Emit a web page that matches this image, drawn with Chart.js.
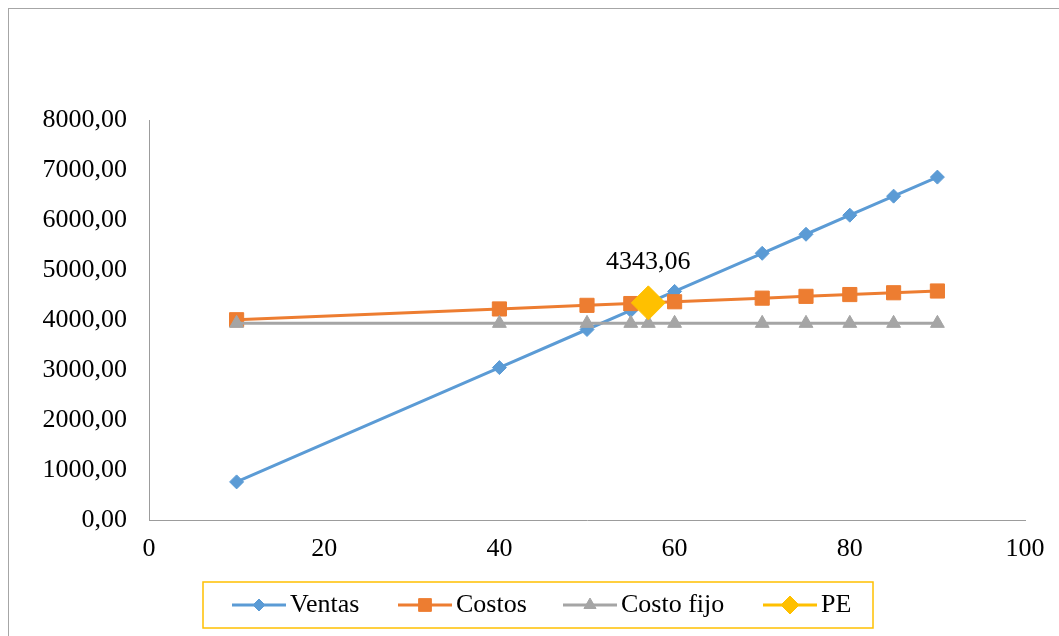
<!DOCTYPE html>
<html>
<head>
<meta charset="utf-8">
<script src="https://cdn.jsdelivr.net/npm/chart.js@4.4.1/dist/chart.umd.min.js"></script>
<style>
  html, body { margin: 0; padding: 0; background: #ffffff; overflow: hidden; }
  canvas { display: block; }
</style>
</head>
<body>
<canvas id="grafico" width="1059" height="636"></canvas>
<script>
// Unidades vendidas (eje X)
const unidades = [10, 40, 50, 55, 57, 60, 70, 75, 80, 85, 90];
// Ingresos por ventas
const ventas = [762, 3048, 3810, 4191, 4343, 4572, 5334, 5715, 6096, 6477, 6858];
// Costos totales
const costos = [4005, 4221, 4293, 4329, 4343, 4365, 4437, 4473, 4509, 4545, 4580];
// Costo fijo
const costoFijo = [3933, 3933, 3933, 3933, 3933, 3933, 3933, 3933, 3933, 3933, 3933];
// Punto de equilibrio
const peUnidades = [57];
const peValor = [4343.06];
// Marcas de los ejes
const xTicks = [0, 20, 40, 60, 80, 100];
const yTicks = [0, 1000, 2000, 3000, 4000, 5000, 6000, 7000, 8000];

const FONT = '"Liberation Serif", "Times New Roman", serif';
const fmt = v => Number(v).toFixed(2).replace('.', ',');
const pares = (xs, ys) => xs.map((x, i) => ({ x: x, y: ys[i] }));

const AZUL = '#5B9BD5', NARANJA = '#ED7D31', GRIS = '#A5A5A5', ORO = '#FFC000';

const series = [
  { label: 'Ventas', data: pares(unidades, ventas), color: AZUL, style: 'rectRot', r: 7, lr: 6, order: 3 },
  { label: 'Costos', data: pares(unidades, costos), color: NARANJA, style: 'rect', r: 10, lr: 9, order: 2 },
  { label: 'Costo fijo', data: pares(unidades, costoFijo), color: GRIS, style: 'triangle', r: 8, lr: 7, order: 1 },
  { label: 'PE', data: pares(peUnidades, peValor), color: ORO, style: 'rectRot', r: 17, lr: 9, order: 0 }
];

// Marco exterior, etiqueta del punto de equilibrio y leyenda
const decoracion = {
  id: 'decoracion',
  beforeDraw(chart) {
    const ctx = chart.ctx;
    ctx.save();
    ctx.strokeStyle = '#a6a6a6';
    ctx.lineWidth = 1;
    ctx.strokeRect(8.5, 8.5, 1200, 800);
    ctx.restore();
  },
  afterDraw(chart) {
    const ctx = chart.ctx;
    const xs = chart.scales.x, ys = chart.scales.y;
    ctx.save();
    // etiqueta de valor del PE
    ctx.font = '26px ' + FONT;
    ctx.fillStyle = '#000';
    ctx.textAlign = 'center';
    ctx.textBaseline = 'middle';
    const px = xs.getPixelForValue(peUnidades[0]);
    const py = ys.getPixelForValue(peValor[0]);
    ctx.fillText(fmt(peValor[0]), px, py - 41);

    // leyenda
    ctx.strokeStyle = ORO;
    ctx.lineWidth = 1.5;
    ctx.strokeRect(203, 582, 670, 46);
    const ly = 605;
    const starts = [232, 398, 563, 763];
    ctx.textAlign = 'left';
    series.forEach((s, i) => {
      const x1 = starts[i], x2 = x1 + 54;
      ctx.strokeStyle = s.color;
      ctx.lineWidth = 3;
      ctx.beginPath();
      ctx.moveTo(x1, ly);
      ctx.lineTo(x2, ly);
      ctx.stroke();
      ctx.fillStyle = s.color;
      ctx.strokeStyle = s.color;
      ctx.lineWidth = 1;
      Chart.helpers.drawPoint(ctx, { pointStyle: s.style, radius: s.lr, rotation: 0, borderWidth: 1 }, (x1 + x2) / 2, ly);
      ctx.fillStyle = '#000';
      ctx.fillText(s.label, x2 + 4, ly);
    });
    ctx.restore();
  }
};

new Chart(document.getElementById('grafico'), {
  type: 'line',
  data: {
    datasets: series.map(s => ({
      label: s.label,
      data: s.data,
      borderColor: s.color,
      backgroundColor: s.color,
      borderWidth: 3,
      pointStyle: s.style,
      pointRadius: s.r,
      pointHoverRadius: s.r,
      pointBackgroundColor: s.color,
      pointBorderColor: s.color,
      pointBorderWidth: 1,
      tension: 0,
      fill: false,
      order: s.order
    }))
  },
  options: {
    responsive: false,
    animation: false,
    devicePixelRatio: 1,
    layout: { padding: { left: 0, top: 120, right: 34, bottom: 0 } },
    plugins: { legend: { display: false }, tooltip: { enabled: false } },
    scales: {
      x: {
        type: 'linear',
        min: 0, max: 100,
        afterBuildTicks: a => { a.ticks = xTicks.map(v => ({ value: v })); },
        afterFit: a => { a.height = 116; },
        grid: { display: false, drawTicks: false },
        border: { display: true, color: '#9c9c9c', width: 1 },
        ticks: { font: { family: FONT, size: 26 }, color: '#000', padding: 14, maxRotation: 0 }
      },
      y: {
        type: 'linear',
        min: 0, max: 8000,
        afterBuildTicks: a => { a.ticks = yTicks.map(v => ({ value: v })); },
        afterFit: a => { a.width = 149; },
        grid: { display: false, drawTicks: false },
        border: { display: true, color: '#9c9c9c', width: 1 },
        ticks: { font: { family: FONT, size: 26 }, color: '#000', padding: 22, callback: v => fmt(v) }
      }
    }
  },
  plugins: [decoracion]
});
</script>
</body>
</html>
